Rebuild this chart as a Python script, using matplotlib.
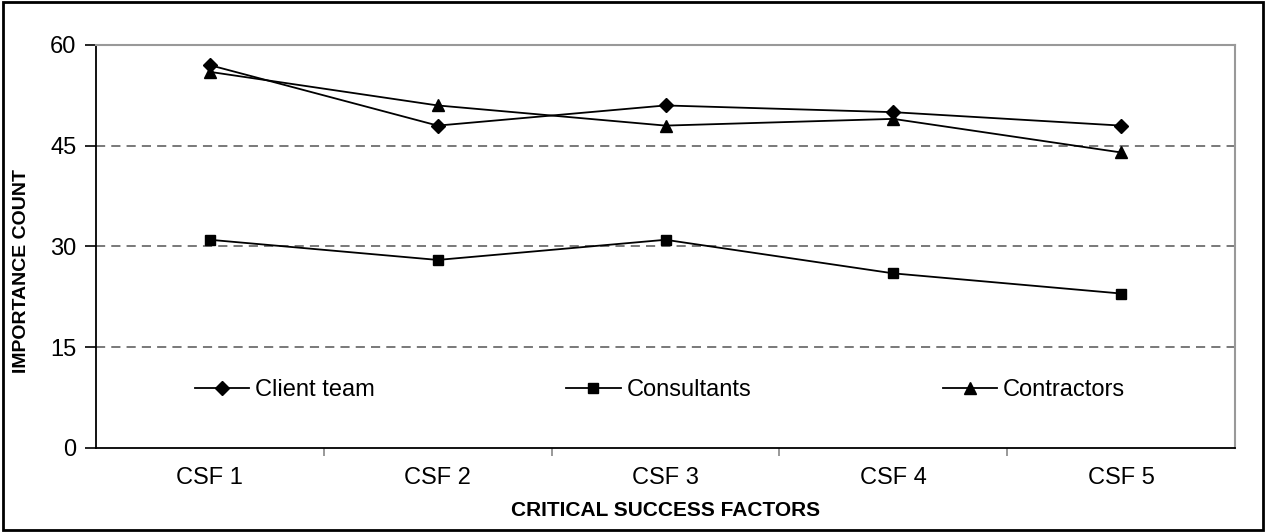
import matplotlib
matplotlib.use("Agg")
import matplotlib.pyplot as plt
from matplotlib.patches import Rectangle

plt.rcParams['font.family'] = ['Liberation Sans', 'DejaVu Sans']

categories = ['CSF 1', 'CSF 2', 'CSF 3', 'CSF 4', 'CSF 5']
client_team = [57, 48, 51, 50, 48]
consultants = [31, 28, 31, 26, 23]
contractors = [56, 51, 48, 49, 44]
y_ticks = [0, 15, 30, 45, 60]

fig = plt.figure(figsize=(12.66, 5.32), dpi=100)
ax = fig.add_axes([96 / 1266, 84 / 532, 1139 / 1266, 403 / 532])

x = range(len(categories))
ax.plot(x, client_team, color='black', lw=1.3, marker='D', ms=7, label='Client team')
ax.plot(x, consultants, color='black', lw=1.3, marker='s', ms=7, label='Consultants')
ax.plot(x, contractors, color='black', lw=1.3, marker='^', ms=9, label='Contractors')

ax.set_xlim(-0.5, 4.5)
ax.set_ylim(0, 60)
ax.set_yticks(y_ticks)
ax.set_xticks(list(x))
ax.set_xticklabels(categories)
ax.set_xticks([0.5, 1.5, 2.5, 3.5], minor=True)
ax.tick_params(axis='x', which='major', length=0, labelsize=17, pad=14)
ax.tick_params(axis='x', which='minor', length=6, color='#888888', width=1.2)
ax.tick_params(axis='y', length=8, width=1.2, labelsize=17, pad=6)

for v in [15, 30, 45]:
    ax.axhline(v, color='#555555', lw=1.1, ls=(0, (6, 4)), zorder=0)

ax.spines['top'].set_color('#999999')
ax.spines['right'].set_color('#999999')
ax.spines['top'].set_linewidth(1.5)
ax.spines['right'].set_linewidth(1.5)
ax.spines['left'].set_linewidth(1.3)
ax.spines['bottom'].set_linewidth(1.3)

ax.set_xlabel('CRITICAL SUCCESS FACTORS', fontsize=15, fontweight='bold', labelpad=8)
fig.text(22 / 1266, 1 - 271 / 532, 'IMPORTANCE COUNT', rotation=90, fontsize=14,
         fontweight='bold', ha='center', va='center')

ax.legend(loc='center left', bbox_to_anchor=(0.087, 8.6 / 60), ncol=3, frameon=False,
          fontsize=17, handlelength=2.3, handletextpad=0.25, columnspacing=8.1,
          borderaxespad=0, borderpad=0)

fig.patches.append(Rectangle((0.002, 0.003), 0.996, 0.993, transform=fig.transFigure,
                             fill=False, edgecolor='black', lw=2))

fig.savefig('out.png', dpi=100)
